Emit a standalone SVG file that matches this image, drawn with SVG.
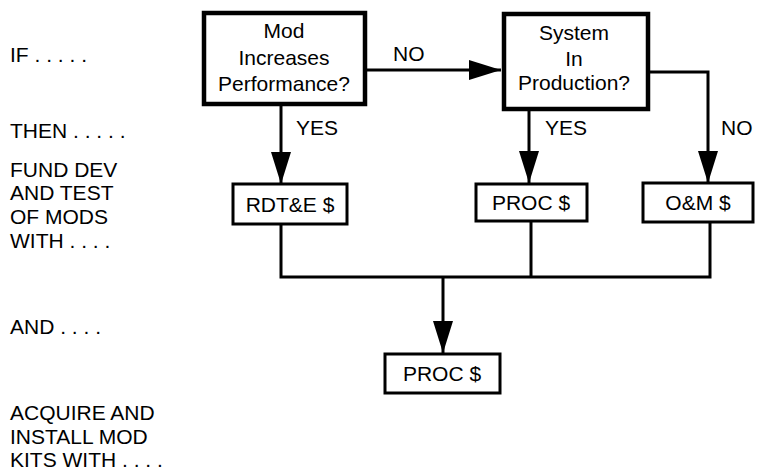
<svg xmlns="http://www.w3.org/2000/svg" width="757" height="471" viewBox="0 0 757 471">
<defs>
<style>
text{font-family:"Liberation Sans",Arial,Helvetica,sans-serif;font-size:21px;fill:#000}
.c{text-anchor:middle}
.big{fill:#fff;stroke:#000;stroke-width:4.5}
.sm{fill:#fff;stroke:#000;stroke-width:3}
.ln{fill:none;stroke:#000;stroke-width:3}
</style>
<marker id="ah" viewBox="0 0 32 20" refX="32" refY="10" markerWidth="32" markerHeight="20" markerUnits="userSpaceOnUse" orient="auto">
<path d="M0,0 L32,10 L0,20 Z" fill="#000"/>
</marker>
</defs>
<rect width="757" height="471" fill="#fff"/>
<g id="labels">
<text x="10" y="62">IF . . . . .</text>
<text x="10" y="138">THEN . . . . .</text>
<text x="10" y="177">FUND DEV</text>
<text x="10" y="200">AND TEST</text>
<text x="10" y="224">OF MODS</text>
<text x="10" y="248">WITH . . . .</text>
<text x="10" y="334">AND . . . .</text>
<text x="10" y="420">ACQUIRE AND</text>
<text x="10" y="444">INSTALL MOD</text>
<text x="10" y="467">KITS WITH . . . .</text>
</g>
<g id="connectors">
<path class="ln" d="M365,70 H501" marker-end="url(#ah)"/>
<path class="ln" d="M281,104 V184" marker-end="url(#ah)"/>
<path class="ln" d="M529,109 V183" marker-end="url(#ah)"/>
<path class="ln" d="M648,72 H708 V183" marker-end="url(#ah)"/>
<path class="ln" d="M281,224 V277 H710 V222"/>
<path class="ln" d="M531,221 V277"/>
<path class="ln" d="M443,277 V353" marker-end="url(#ah)"/>
<text x="393" y="61">NO</text>
<text x="296" y="135">YES</text>
<text x="545" y="135">YES</text>
<text x="721" y="135">NO</text>
</g>
<g id="mod">
<rect class="big" x="204" y="13" width="161" height="91"/>
<text class="c" x="284" y="38">Mod</text>
<text class="c" x="284" y="65">Increases</text>
<text class="c" x="284" y="91">Performance?</text>
</g>
<g id="system">
<rect class="big" x="504" y="14" width="144" height="95"/>
<text class="c" x="574" y="40">System</text>
<text class="c" x="574" y="66">In</text>
<text class="c" x="574" y="90">Production?</text>
</g>
<g id="rdte">
<rect class="sm" x="233" y="184" width="114" height="40"/>
<text class="c" x="290" y="212">RDT&amp;E $</text>
</g>
<g id="proc1">
<rect class="sm" x="476" y="184" width="111" height="37"/>
<text class="c" x="531" y="210">PROC $</text>
</g>
<g id="om">
<rect class="sm" x="643" y="183" width="110" height="39"/>
<text class="c" x="698" y="210">O&amp;M $</text>
</g>
<g id="proc2">
<rect class="sm" x="385" y="354" width="115" height="39"/>
<text class="c" x="442" y="381">PROC $</text>
</g>
</svg>
